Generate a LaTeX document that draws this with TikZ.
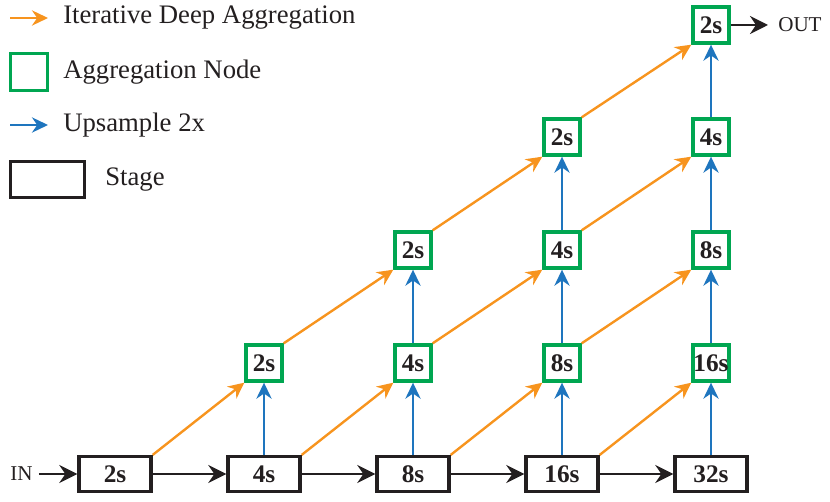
\documentclass[tikz,border=0pt]{standalone}
\usepackage{fontspec}
\setmainfont{Liberation Serif}
\usetikzlibrary{arrows.meta}
\definecolor{idaorange}{RGB}{247,148,30}
\definecolor{upblue}{RGB}{30,117,190}
\definecolor{aggreen}{RGB}{0,166,81}
\definecolor{stageblack}{RGB}{35,31,32}

\begin{document}
\begin{tikzpicture}[
font=\fontsize{19}{23}\selectfont,
stage/.style={draw=stageblack, line width=2.4pt, fill=white, minimum width=1.8cm, minimum height=0.87cm, inner sep=0pt, font=\fontsize{18}{22}\selectfont\bfseries, text=stageblack},
aggnode/.style={draw=aggreen, line width=2.4pt, fill=white, minimum width=0.9cm, minimum height=0.9cm, inner sep=0pt, font=\fontsize{18}{22}\selectfont\bfseries, text=stageblack},
legtext/.style={anchor=west, inner sep=0pt, text=stageblack},
ioterm/.style={anchor=west, inner sep=0pt, text=stageblack, font=\fontsize{15}{18}\selectfont},
flow/.style={-{Stealth[length=4.5mm,width=4.5mm,inset=1.5mm]}, draw=stageblack, line width=2pt},
ida/.style={-{Stealth[length=4mm,width=3.8mm,inset=1.3mm]}, draw=idaorange, line width=1.7pt},
upsample/.style={-{Stealth[length=4mm,width=3.8mm,inset=1.3mm]}, draw=upblue, line width=1.7pt}
]
\useasboundingbox (0,0) rectangle (20.75,12.525);

% legend
\coordinate (lo1) at (0.25,12.075);
\coordinate (lo2) at (1.2,12.075);
\draw[ida] (lo1) -- (lo2);
\node[legtext] (lgida) at (1.575,12.075) {Iterative Deep Aggregation};
\node[aggnode, minimum size=0.93cm] (lgagg) at (0.725,10.725) {};
\node[legtext] (lgaggt) at (1.575,10.725) {Aggregation Node};
\coordinate (lb1) at (0.25,9.4);
\coordinate (lb2) at (1.2,9.4);
\draw[upsample] (lb1) -- (lb2);
\node[legtext] (lgup) at (1.575,9.4) {Upsample 2x};
\node[stage, minimum width=1.85cm, minimum height=0.9cm] (lgst) at (1.19,8.04) {};
\node[legtext] (lgstt) at (2.625,8.04) {Stage};

% stages
\node[ioterm] (in) at (0.25,0.675) {IN};
\node[stage] (st1) at (2.875,0.675) {2s};
\node[stage] (st2) at (6.6,0.675) {4s};
\node[stage] (st3) at (10.325,0.675) {8s};
\node[stage] (st4) at (14.05,0.675) {16s};
\node[stage] (st5) at (17.775,0.675) {32s};

% aggregation nodes
\node[aggnode] (a21) at (6.6,3.45) {2s};
\node[aggnode] (a31) at (10.325,3.45) {4s};
\node[aggnode] (a32) at (10.325,6.275) {2s};
\node[aggnode] (a41) at (14.05,3.45) {8s};
\node[aggnode] (a42) at (14.05,6.275) {4s};
\node[aggnode] (a43) at (14.05,9.1) {2s};
\node[aggnode] (a51) at (17.775,3.45) {16s};
\node[aggnode] (a52) at (17.775,6.275) {8s};
\node[aggnode] (a53) at (17.775,9.1) {4s};
\node[aggnode] (a54) at (17.775,11.9) {2s};
\node[ioterm] (out) at (19.45,11.9) {OUT};

% main path
\draw[flow] (in.east) ++(0.15,0) -- (st1.west);
\draw[flow] (st1) -- (st2);
\draw[flow] (st2) -- (st3);
\draw[flow] (st3) -- (st4);
\draw[flow] (st4) -- (st5);
\draw[flow] (a54.east) -- ([xshift=-0.25cm]out.west);

% upsample
\draw[upsample] (st2.north) -- (a21.south);
\draw[upsample] (st3.north) -- (a31.south);
\draw[upsample] (a31.north) -- (a32.south);
\draw[upsample] (st4.north) -- (a41.south);
\draw[upsample] (a41.north) -- (a42.south);
\draw[upsample] (a42.north) -- (a43.south);
\draw[upsample] (st5.north) -- (a51.south);
\draw[upsample] (a51.north) -- (a52.south);
\draw[upsample] (a52.north) -- (a53.south);
\draw[upsample] (a53.north) -- (a54.south);

% iterative deep aggregation
\draw[ida] (st1.north east) -- (a21.south west);
\draw[ida] (st2.north east) -- (a31.south west);
\draw[ida] (st3.north east) -- (a41.south west);
\draw[ida] (st4.north east) -- (a51.south west);
\draw[ida] (a21.north east) -- (a32.south west);
\draw[ida] (a31.north east) -- (a42.south west);
\draw[ida] (a41.north east) -- (a52.south west);
\draw[ida] (a32.north east) -- (a43.south west);
\draw[ida] (a42.north east) -- (a53.south west);
\draw[ida] (a43.north east) -- (a54.south west);
\end{tikzpicture}
\end{document}
